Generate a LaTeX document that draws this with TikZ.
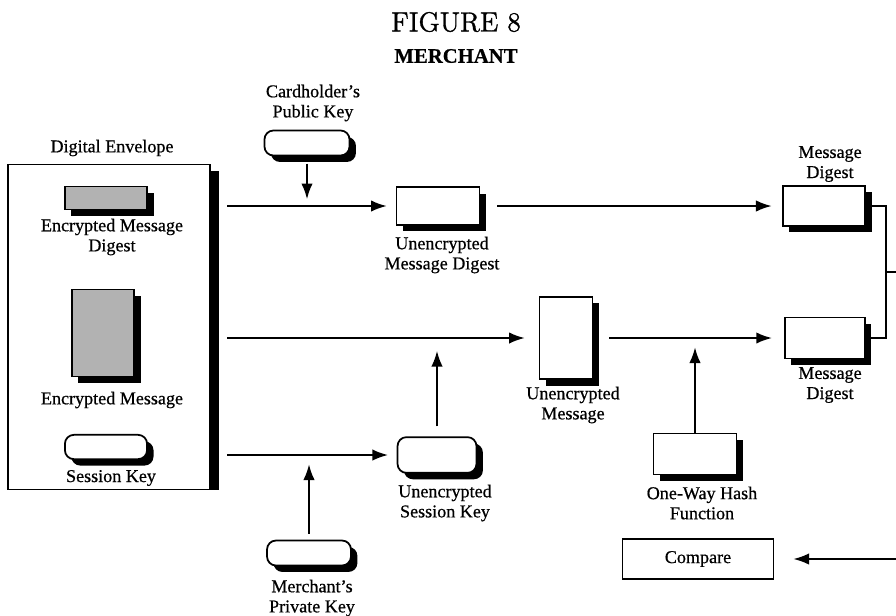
\documentclass[tikz,border=0pt]{standalone}
\usepackage{fontspec}
\newfontfamily\labelfont{Liberation Serif}[FakeBold=0.6]
\newfontfamily\titlefont{lmroman12-regular}[Extension=.otf, FakeBold=1.2]
\usepackage{tikz}
\usetikzlibrary{arrows.meta, shadows}

\begin{document}
\begin{tikzpicture}[x=0.028cm, y=-0.028cm,
    font=\labelfont\fontsize{14.4}{16}\selectfont,
    outline/.style={draw, line width=1.4pt, fill=white, inner sep=0pt},
    blackshadow/.style={drop shadow={shadow xshift=1.8mm, shadow yshift=-1.8mm, fill=black, opacity=1}},
    docbox/.style={outline, blackshadow},
    keybox/.style={outline, blackshadow, rounded corners=2.5mm},
    graybox/.style={docbox, fill=black!30},
    lbl/.style={align=center, inner sep=0pt},
    flow/.style={line width=1.5pt, -{Latex[length=4.4mm, width=3.2mm]}}]

    % Fix the picture size
    \useasboundingbox (0,0) rectangle (896,615);

    % Titles
    \node[lbl, font=\titlefont\fontsize{22}{24}\selectfont] (fig) at (456,22) {FIGURE 8};
    \node[lbl, font=\labelfont\bfseries\fontsize{16.5}{18}\selectfont] (merchant) at (456,56) {MERCHANT};

    % Digital envelope and what it holds
    \node[outline, minimum width=5.66cm, minimum height=9.10cm] (env) at (109,327) {};
    \fill ([yshift=-2mm]env.north east) rectangle ([xshift=2.2mm]env.south east);
    \node[lbl] (envlbl) at (112,148) {Digital Envelope};
    \node[graybox, minimum width=2.30cm, minimum height=0.64cm] (emd) at (106,198) {};
    \node[lbl] (emdlbl) at (112,237) {Encrypted Message\\Digest};
    \node[graybox, minimum width=1.74cm, minimum height=2.44cm] (emsg) at (103,333) {};
    \node[lbl] (emsglbl) at (112,400) {Encrypted Message};
    \node[keybox, minimum width=2.30cm, minimum height=0.68cm] (skey) at (106,447) {};
    \node[lbl] (skeylbl) at (111,478) {Session Key};

    % Keys coming in
    \node[keybox, minimum width=2.38cm, minimum height=0.70cm] (pubkey) at (307,143) {};
    \node[lbl] (pubkeylbl) at (313,103) {Cardholder’s\\Public Key};
    \node[keybox, minimum width=2.35cm, minimum height=0.70cm] (privkey) at (309,553) {};
    \node[lbl] (privkeylbl) at (312,598) {Merchant’s\\Private Key};

    % Decrypted results
    \node[docbox, minimum width=2.32cm, minimum height=1.06cm] (umd) at (438,206) {};
    \node[lbl] (umdlbl) at (442,255) {Unencrypted\\Message Digest};
    \node[docbox, minimum width=1.48cm, minimum height=2.30cm] (umsg) at (566,338) {};
    \node[lbl] (umsglbl) at (573,405) {Unencrypted\\Message};
    \node[keybox, minimum width=2.21cm, minimum height=1.0cm] (usk) at (437,455) {};
    \node[lbl] (usklbl) at (445,503) {Unencrypted\\Session Key};

    % Hash and digests
    \node[docbox, minimum width=2.32cm, minimum height=1.15cm] (hash) at (695,454) {};
    \node[lbl] (hashlbl) at (702,503) {One-Way Hash\\Function};
    \node[docbox, minimum width=2.30cm, minimum height=1.12cm] (topdig) at (824,206) {};
    \node[lbl] (topdiglbl) at (830,164) {Message\\Digest};
    \node[docbox, minimum width=2.24cm, minimum height=1.15cm] (botdig) at (825,338) {};
    \node[lbl] (botdiglbl) at (830,385) {Message\\Digest};
    \node[outline, minimum width=4.23cm, minimum height=1.12cm] (cmp) at (698,559) {Compare};

    % Arrows out of the envelope
    \draw[flow, shorten <=4.6mm, shorten >=2.5mm] (env.east |- umd) -- (umd);
    \draw[flow, shorten <=4.6mm, shorten >=3.9mm] (env.east |- umsg) -- (umsg);
    \draw[flow, shorten <=4.6mm, shorten >=2.4mm] (env.east |- usk) -- (usk);

    % Keys into the lines
    \draw[flow, shorten <=2.0mm, shorten >=1.9mm] (pubkey.south) -- (pubkey |- umd);
    \draw[flow, shorten <=1.7mm, shorten >=2.6mm] (privkey.north) -- (privkey |- usk);
    \draw[flow, shorten <=2.8mm, shorten >=3.6mm] (usk.north) -- (usk |- umsg);
    \draw[flow, shorten >=2.6mm] (hash.north) -- (hash |- botdig);

    % Onward to the digests
    \draw[flow, shorten <=4.8mm, shorten >=2.9mm] (umd) -- (topdig);
    \draw[flow, shorten <=4.4mm, shorten >=3.4mm] (umsg) -- (botdig);

    % Both digests go to compare
    \coordinate (joinx) at (886,272);
    \coordinate (turn) at (910,272);
    \draw[line width=1.4pt] (topdig.east) -| (joinx) |- (botdig.east);
    \draw[flow, shorten >=5.3mm] (joinx) -- (turn) |- (cmp.east);

\end{tikzpicture}
\end{document}
